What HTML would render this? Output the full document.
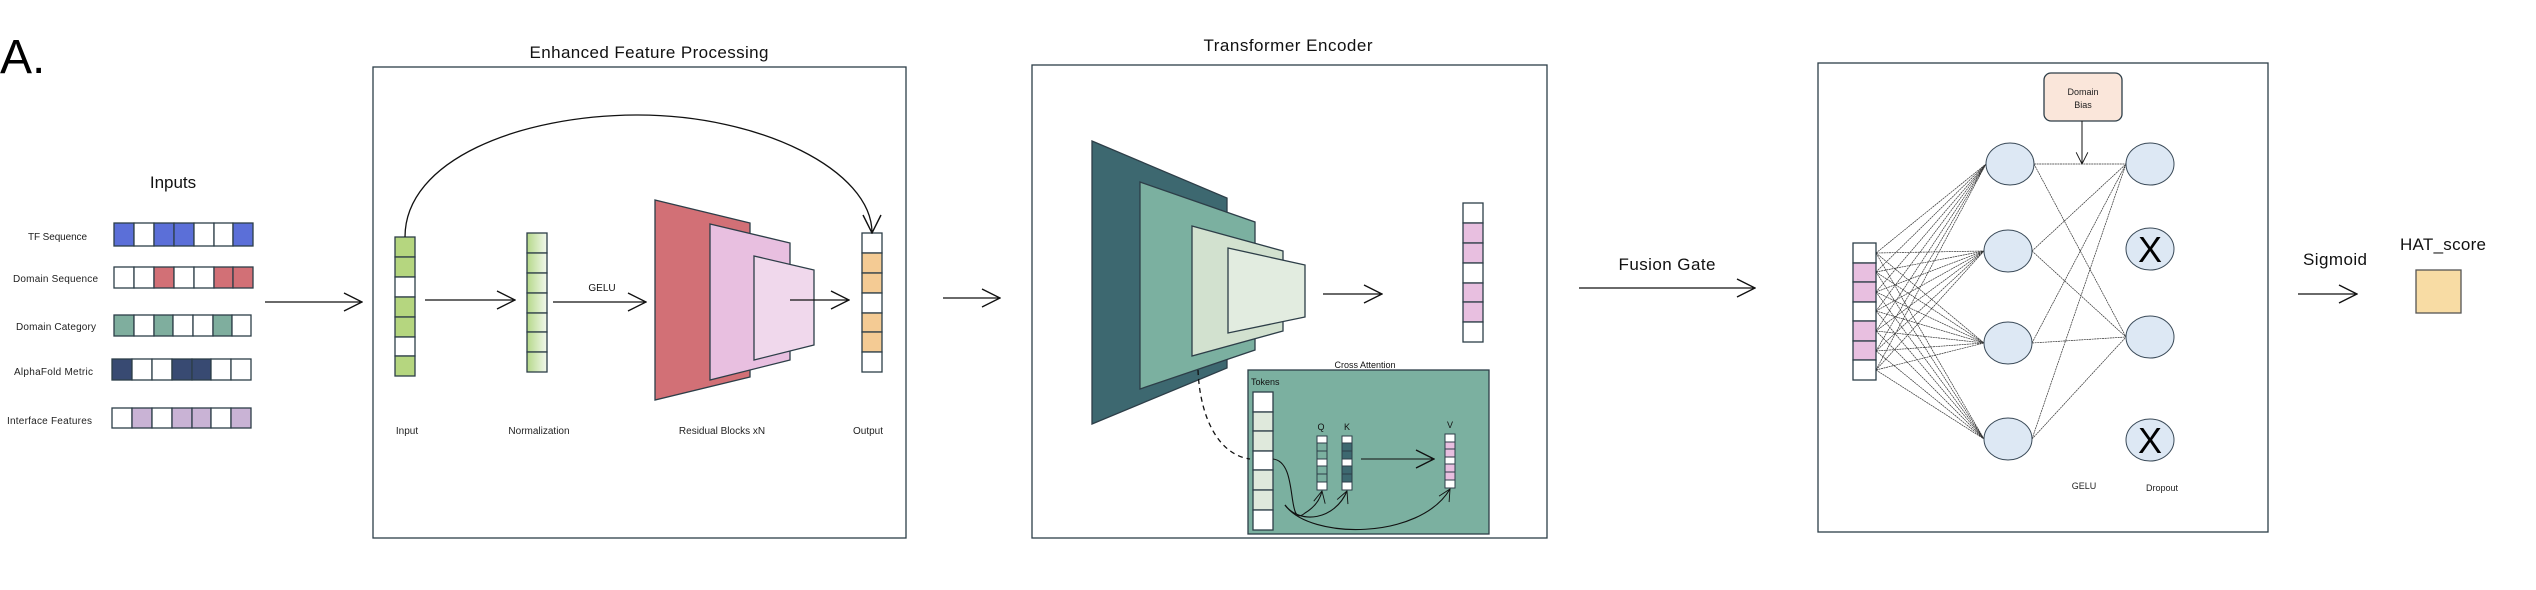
<!DOCTYPE html>
<html><head><meta charset="utf-8"><style>
html,body{margin:0;padding:0;background:#fff;}
svg{display:block;font-family:"Liberation Sans",sans-serif;}
</style></head><body>
<svg width="2536" height="590" viewBox="0 0 2536 590" xmlns="http://www.w3.org/2000/svg">
<defs>
<marker id="ah" viewBox="0 0 20 20" refX="19" refY="10" markerWidth="20" markerHeight="20" markerUnits="userSpaceOnUse" orient="auto">
<path d="M1,1 L19,10 L1,19" fill="none" stroke="#111" stroke-width="1.4"/></marker>
<marker id="ahs" viewBox="0 0 20 20" refX="19" refY="10" markerWidth="13" markerHeight="13" markerUnits="userSpaceOnUse" orient="auto">
<path d="M1,1 L19,10 L1,19" fill="none" stroke="#111" stroke-width="1.4"/></marker>
<linearGradient id="ng" x1="0" x2="1"><stop offset="0" stop-color="#b5d88a"/><stop offset="1" stop-color="#f2f8ec"/></linearGradient>
</defs>
<g stroke="#2d3e48" stroke-width="1.3">
<!-- A. -->
<text x="0" y="73" font-size="48" stroke="none" fill="#000">A.</text>

<!-- Inputs -->
<text x="173" y="188" font-size="17" text-anchor="middle" stroke="none" fill="#111">Inputs</text>
<g font-size="10" stroke="none" fill="#222">
<text x="28" y="240" textLength="59">TF Sequence</text>
<text x="13" y="282" textLength="85">Domain Sequence</text>
<text x="16" y="330" textLength="80">Domain Category</text>
<text x="14" y="375" textLength="79">AlphaFold Metric</text>
<text x="7" y="424" textLength="85">Interface Features</text>
</g>
<g id="rows">
<!-- TF -->
<rect x="114" y="223" width="20" height="23" fill="#5b6fd8"/><rect x="134" y="223" width="20" height="23" fill="#fff"/><rect x="154" y="223" width="20" height="23" fill="#5b6fd8"/><rect x="174" y="223" width="20" height="23" fill="#5b6fd8"/><rect x="194" y="223" width="20" height="23" fill="#fff"/><rect x="214" y="223" width="19" height="23" fill="#fff"/><rect x="233" y="223" width="20" height="23" fill="#5b6fd8"/>
<!-- Domain seq -->
<rect x="114" y="267" width="20" height="21" fill="#fff"/><rect x="134" y="267" width="20" height="21" fill="#fff"/><rect x="154" y="267" width="20" height="21" fill="#d27076"/><rect x="174" y="267" width="20" height="21" fill="#fff"/><rect x="194" y="267" width="20" height="21" fill="#fff"/><rect x="214" y="267" width="19" height="21" fill="#d27076"/><rect x="233" y="267" width="20" height="21" fill="#d27076"/>
<!-- Domain cat -->
<rect x="114" y="315" width="20" height="21" fill="#7fae9e"/><rect x="134" y="315" width="20" height="21" fill="#fff"/><rect x="154" y="315" width="19" height="21" fill="#7fae9e"/><rect x="173" y="315" width="20" height="21" fill="#fff"/><rect x="193" y="315" width="20" height="21" fill="#fff"/><rect x="213" y="315" width="19" height="21" fill="#7fae9e"/><rect x="232" y="315" width="19" height="21" fill="#fff"/>
<!-- AlphaFold -->
<rect x="112" y="359" width="20" height="21" fill="#384a72"/><rect x="132" y="359" width="20" height="21" fill="#fff"/><rect x="152" y="359" width="20" height="21" fill="#fff"/><rect x="172" y="359" width="20" height="21" fill="#384a72"/><rect x="192" y="359" width="19" height="21" fill="#384a72"/><rect x="211" y="359" width="20" height="21" fill="#fff"/><rect x="231" y="359" width="20" height="21" fill="#fff"/>
<!-- Interface -->
<rect x="112" y="408" width="20" height="20" fill="#fff"/><rect x="132" y="408" width="20" height="20" fill="#c9b3d5"/><rect x="152" y="408" width="20" height="20" fill="#fff"/><rect x="172" y="408" width="20" height="20" fill="#c9b3d5"/><rect x="192" y="408" width="19" height="20" fill="#c9b3d5"/><rect x="211" y="408" width="20" height="20" fill="#fff"/><rect x="231" y="408" width="20" height="20" fill="#c9b3d5"/>
</g>
<line x1="265" y1="302" x2="362" y2="302" stroke="#111" marker-end="url(#ah)"/>

<!-- Box 1 -->
<text x="649" y="58" font-size="17" text-anchor="middle" stroke="none" fill="#111" textLength="239">Enhanced Feature Processing</text>
<rect x="373" y="67" width="533" height="471" fill="#fff"/>
<!-- input column -->
<g>
<rect x="395" y="237" width="20" height="20" fill="#b5d67f"/><rect x="395" y="257" width="20" height="20" fill="#b5d67f"/><rect x="395" y="277" width="20" height="20" fill="#fff"/><rect x="395" y="297" width="20" height="20" fill="#b5d67f"/><rect x="395" y="317" width="20" height="20" fill="#b5d67f"/><rect x="395" y="337" width="20" height="19" fill="#fff"/><rect x="395" y="356" width="20" height="20" fill="#b5d67f"/>
</g>
<g fill="url(#ng)">
<rect x="527" y="233" width="20" height="20"/><rect x="527" y="253" width="20" height="20"/><rect x="527" y="273" width="20" height="20"/><rect x="527" y="293" width="20" height="20"/><rect x="527" y="313" width="20" height="19"/><rect x="527" y="332" width="20" height="20"/><rect x="527" y="352" width="20" height="20"/>
</g>
<line x1="425" y1="300" x2="515" y2="300" stroke="#111" marker-end="url(#ah)"/>
<text x="602" y="291" font-size="10" text-anchor="middle" stroke="none" fill="#111">GELU</text>
<line x1="553" y1="302" x2="646" y2="302" stroke="#111" marker-end="url(#ah)"/>
<polygon points="655,200 750,223 750,377 655,400" fill="#d27076"/>
<polygon points="710,224 790,243 790,360 710,380" fill="#e8bfe0"/>
<polygon points="754,256 814,270 814,345 754,360" fill="#f0d8ec"/>
<line x1="790" y1="300" x2="849" y2="300" stroke="#111" marker-end="url(#ah)"/>
<g>
<rect x="862" y="233" width="20" height="20" fill="#fff"/><rect x="862" y="253" width="20" height="20" fill="#f4cb94"/><rect x="862" y="273" width="20" height="20" fill="#f4cb94"/><rect x="862" y="293" width="20" height="20" fill="#fff"/><rect x="862" y="313" width="20" height="19" fill="#f4cb94"/><rect x="862" y="332" width="20" height="20" fill="#f4cb94"/><rect x="862" y="352" width="20" height="20" fill="#fff"/>
</g>
<path d="M405,237 C405,160 520,115 638,115 C760,115 872,170 872,233" fill="none" stroke="#111" marker-end="url(#ah)"/>
<g font-size="10" stroke="none" fill="#222" text-anchor="middle">
<text x="407" y="434">Input</text>
<text x="539" y="434">Normalization</text>
<text x="722" y="434">Residual Blocks xN</text>
<text x="868" y="434">Output</text>
</g>
<line x1="943" y1="298" x2="1000" y2="298" stroke="#111" marker-end="url(#ah)"/>

<!-- Box 2 -->
<text x="1288" y="51" font-size="17" text-anchor="middle" stroke="none" fill="#111" textLength="169">Transformer Encoder</text>
<rect x="1032" y="65" width="515" height="473" fill="#fff"/>
<polygon points="1092,141 1227,198 1227,368 1092,424" fill="#3d6870"/>
<polygon points="1140,182 1255,222 1255,350 1140,389" fill="#7bb0a0"/>
<polygon points="1192,226 1283,251 1283,331 1192,356" fill="#d2e1cf"/>
<polygon points="1228,248 1305,265 1305,317 1228,333" fill="#e2ece0"/>
<line x1="1323" y1="294" x2="1382" y2="294" stroke="#111" marker-end="url(#ah)"/>
<g>
<rect x="1463" y="203" width="20" height="20" fill="#fff"/><rect x="1463" y="223" width="20" height="20" fill="#e8bfe0"/><rect x="1463" y="243" width="20" height="20" fill="#e8bfe0"/><rect x="1463" y="263" width="20" height="20" fill="#fff"/><rect x="1463" y="283" width="20" height="19" fill="#e8bfe0"/><rect x="1463" y="302" width="20" height="20" fill="#e8bfe0"/><rect x="1463" y="322" width="20" height="20" fill="#fff"/>
</g>
<text x="1365" y="368" font-size="9" text-anchor="middle" stroke="none" fill="#111">Cross Attention</text>
<rect x="1248" y="370" width="241" height="164" fill="#7bb0a0"/>
<text x="1251" y="385" font-size="9" stroke="none" fill="#111">Tokens</text>
<g>
<rect x="1253" y="392" width="20" height="20" fill="#fff"/><rect x="1253" y="412" width="20" height="19" fill="#dfe9dc"/><rect x="1253" y="431" width="20" height="20" fill="#dfe9dc"/><rect x="1253" y="451" width="20" height="19" fill="#fff"/><rect x="1253" y="470" width="20" height="20" fill="#dfe9dc"/><rect x="1253" y="490" width="20" height="20" fill="#dfe9dc"/><rect x="1253" y="510" width="20" height="20" fill="#fff"/>
</g>
<g stroke-width="1">
<rect x="1317" y="436" width="10" height="7" fill="#fff"/><rect x="1317" y="443" width="10" height="8" fill="#7bb0a0"/><rect x="1317" y="451" width="10" height="8" fill="#7bb0a0"/><rect x="1317" y="459" width="10" height="7" fill="#fff"/><rect x="1317" y="466" width="10" height="8" fill="#7bb0a0"/><rect x="1317" y="474" width="10" height="8" fill="#7bb0a0"/><rect x="1317" y="482" width="10" height="8" fill="#fff"/>
<rect x="1342" y="436" width="10" height="7" fill="#fff"/><rect x="1342" y="443" width="10" height="8" fill="#3d6870"/><rect x="1342" y="451" width="10" height="8" fill="#3d6870"/><rect x="1342" y="459" width="10" height="7" fill="#fff"/><rect x="1342" y="466" width="10" height="8" fill="#3d6870"/><rect x="1342" y="474" width="10" height="8" fill="#3d6870"/><rect x="1342" y="482" width="10" height="8" fill="#fff"/>
<rect x="1445" y="434" width="10" height="8" fill="#fff"/><rect x="1445" y="442" width="10" height="7" fill="#e8bfe0"/><rect x="1445" y="449" width="10" height="8" fill="#e8bfe0"/><rect x="1445" y="457" width="10" height="7" fill="#fff"/><rect x="1445" y="464" width="10" height="8" fill="#e8bfe0"/><rect x="1445" y="472" width="10" height="8" fill="#e8bfe0"/><rect x="1445" y="480" width="10" height="8" fill="#fff"/>
</g>
<g font-size="9" stroke="none" fill="#111" text-anchor="middle"><text x="1321" y="430">Q</text><text x="1347" y="430">K</text><text x="1450" y="428">V</text></g>
<line x1="1361" y1="459" x2="1434" y2="459" stroke="#111" stroke-width="1" marker-end="url(#ah)"/>
<path d="M1198,370 C1200,420 1220,455 1250,459" fill="none" stroke="#111" stroke-dasharray="5,4"/>
<g fill="none" stroke="#111" stroke-width="1.1">
<path d="M1273,459 C1300,462 1285,530 1305,513 C1315,507 1320,500 1322,491" marker-end="url(#ahs)"/>
<path d="M1285,505 C1300,525 1335,520 1347,491" marker-end="url(#ahs)"/>
<path d="M1285,505 C1310,540 1420,540 1450,489" marker-end="url(#ahs)"/>
</g>
<text x="1667" y="270" font-size="17" text-anchor="middle" stroke="none" fill="#111" textLength="97">Fusion Gate</text>
<line x1="1579" y1="288" x2="1755" y2="288" stroke="#111" marker-end="url(#ah)"/>

<!-- Box 3 -->
<rect x="1818" y="63" width="450" height="469" fill="#fff"/>
<rect x="2044" y="73" width="78" height="48" rx="7" fill="#fae6da"/>
<g font-size="9" stroke="none" fill="#222" text-anchor="middle"><text x="2083" y="95">Domain</text><text x="2083" y="108">Bias</text></g>
<line x1="2082" y1="121" x2="2082" y2="164" stroke="#111" stroke-width="1" marker-end="url(#ahs)"/>
<g stroke="#333" stroke-width="0.7" stroke-dasharray="2,0.6">
<!-- input to hidden -->
<path d="M1876,253 L1986,164 M1876,272 L1986,164 M1876,292 L1986,164 M1876,311 L1986,164 M1876,331 L1986,164 M1876,351 L1986,164 M1876,370 L1986,164
M1876,253 L1984,251 M1876,272 L1984,251 M1876,292 L1984,251 M1876,311 L1984,251 M1876,331 L1984,251 M1876,351 L1984,251 M1876,370 L1984,251
M1876,253 L1984,343 M1876,272 L1984,343 M1876,292 L1984,343 M1876,311 L1984,343 M1876,331 L1984,343 M1876,351 L1984,343 M1876,370 L1984,343
M1876,253 L1984,439 M1876,272 L1984,439 M1876,292 L1984,439 M1876,311 L1984,439 M1876,331 L1984,439 M1876,351 L1984,439 M1876,370 L1984,439"/>
<path d="M2034,164 L2126,164 M2034,164 L2126,337 M2032,251 L2126,164 M2032,251 L2126,337 M2032,343 L2126,164 M2032,343 L2126,337 M2032,439 L2126,164 M2032,439 L2126,337"/>
</g>
<g>
<rect x="1853" y="243" width="23" height="20" fill="#fff"/><rect x="1853" y="263" width="23" height="19" fill="#e8bfe0"/><rect x="1853" y="282" width="23" height="20" fill="#e8bfe0"/><rect x="1853" y="302" width="23" height="19" fill="#fff"/><rect x="1853" y="321" width="23" height="20" fill="#e8bfe0"/><rect x="1853" y="341" width="23" height="19" fill="#e8bfe0"/><rect x="1853" y="360" width="23" height="20" fill="#fff"/>
</g>
<g fill="#dde8f4" stroke="#3a4a58" stroke-width="1">
<ellipse cx="2010" cy="164" rx="24" ry="21"/><ellipse cx="2008" cy="251" rx="24" ry="21"/><ellipse cx="2008" cy="343" rx="24" ry="21"/><ellipse cx="2008" cy="439" rx="24" ry="21"/>
<ellipse cx="2150" cy="164" rx="24" ry="21"/><ellipse cx="2150" cy="249" rx="24" ry="21"/><ellipse cx="2150" cy="337" rx="24" ry="21"/><ellipse cx="2150" cy="440" rx="24" ry="21"/>
</g>
<g font-size="36" stroke="none" fill="#000" text-anchor="middle"><text x="2150" y="262">X</text><text x="2150" y="453">X</text></g>
<g font-size="9" stroke="none" fill="#222" text-anchor="middle"><text x="2084" y="489">GELU</text><text x="2162" y="491">Dropout</text></g>
<text x="2335" y="265" font-size="17" text-anchor="middle" stroke="none" fill="#111" textLength="64">Sigmoid</text>
<line x1="2298" y1="294" x2="2357" y2="294" stroke="#111" marker-end="url(#ah)"/>
<text x="2443" y="250" font-size="17" text-anchor="middle" stroke="none" fill="#111" textLength="86">HAT_score</text>
<rect x="2416" y="270" width="45" height="43" fill="#f8dca4" stroke="#555"/>
</g>
</svg>
</body></html>
